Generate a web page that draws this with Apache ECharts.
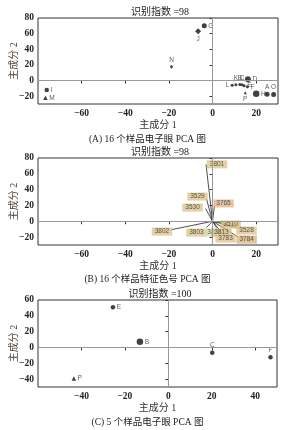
<!DOCTYPE html>
<html>
<head>
<meta charset="utf-8">
<script src="https://cdn.jsdelivr.net/npm/echarts@6/dist/echarts.min.js"></script>
<style>
  html, body { margin: 0; padding: 0; background: #fff; }
  #chart { width: 295px; height: 430px; }
</style>
</head>
<body>
<div id="chart"></div>
<script>
// 图 A：16 个样品电子眼 PCA
const samplesA = ['A', 'B', 'C', 'D', 'E', 'F', 'G', 'H', 'I', 'J', 'K', 'L', 'M', 'N', 'O', 'P']
const pc1A = [25, 12.5, 13.5, 16.2, 14.5, 16, -3.8, 20, -76, -6.6, 10.7, 9, -76.6, -18.8, 28, 15]
const pc2A = [-17.5, -5, -5.5, 1.6, -6.5, -8, 70, -17, -12, 63, -5.4, -6, -22, 14.6, -18, -15.5]

// 图 B：特征色号载荷
const colorCodes = ['3801', '3529', '3530', '3765', '3802', '3803', '3828', '3813', '3510', '3528', '3783', '3784']
const pc1B = [-3, -2.8, -3.2, 0.9, -18.6, -2.8, 0, 1.8, 4.6, 11, 4.6, 11.5]
const pc2B = [72, 28.7, 16, 20, -10.5, -8, -8, -8, -1.6, -8, -15.6, -19.4]

// 图 C：5 个样品电子眼 PCA
const samplesC = ['E', 'B', 'C', 'F', 'P']
const pc1C = [-25.5, -13.1, 20.2, 47, -43.5]
const pc2C = [50.8, 7.2, -6.7, -12.3, -39.4]

const ticksX_AB = [-60, -40, -20, 0, 20]
const ticksY_AB = [-20, 0, 20, 40, 60, 80]
const ticksX_C = [-40, -20, 0, 20, 40]
const ticksY_C = [-40, -20, 0, 20, 40, 60]
const titleTexts = ['识别指数 =98', '识别指数 =98', '识别指数 =100']
const captions = ['(A) 16 个样品电子眼 PCA 图', '(B) 16 个样品特征色号 PCA 图', '(C) 5 个样品电子眼 PCA 图']

const serif = '"Liberation Serif", "Noto Sans CJK SC", serif'
const cjk = '"Liberation Serif", "Noto Sans CJK SC", sans-serif'

// 各面板位置
const panelTop = [18, 158, 300]

// 标记形状 / 标签位置
const symA = { J: 'diamond', M: 'triangle', N: 'pin', P: 'triangle' }
const sizeA = { H: 6.5, A: 5, O: 5, D: 6, G: 5, J: 6, I: 4.5, M: 4.5, N: 4.5 }
const labelPosA = { J: 'bottom', N: 'top', P: 'bottom', A: 'top', O: 'top', L: 'left', K: 'top', B: 'top', C: 'top', D: 'right' }
const labelBgB = { '3765': '#e2b48a', '3828': '#d3e2ae', '3784': '#dab57e', '3510': '#d9bb78' }
const labelOffB = {
  '3801': [11, 0], '3529': [-9, -2], '3530': [-13, -1], '3765': [9, -2],
  '3802': [-10, 2], '3803': [-10, 5], '3828': [2, 5], '3813': [5, 5],
  '3510': [8, 2], '3528': [10, 3], '3783': [3, 5], '3784': [9, 3]
}

const fmtNum = (v) => String(v).replace('-', '\u2212')

function makeAxis(type, gridIndex, min, max, ticks) {
  const isY = type === 'y'
  return {
    type: 'value',
    gridIndex: gridIndex,
    min: min,
    max: max,
    name: isY ? '主成分 2' : '主成分 1',
    nameLocation: 'middle',
    nameGap: isY ? 19 : 16,
    nameRotate: isY ? 90 : 0,
    nameMoveOverlap: false,
    nameTextStyle: { fontFamily: cjk, fontSize: 10, color: isY ? '#4a3a30' : '#333' },
    axisLine: { show: false },
    axisTick: { show: true, length: 3, lineStyle: { color: '#333' }, customValues: ticks },
    axisLabel: {
      customValues: ticks,
      fontFamily: serif,
      fontWeight: 'bold',
      fontSize: 9.5,
      color: '#222',
      margin: isY ? 4 : 5,
      formatter: fmtNum
    },
    splitLine: { show: false }
  }
}

const zeroLines = {
  silent: true,
  symbol: 'none',
  label: { show: false },
  lineStyle: { color: '#999', width: 1, type: 'solid' },
  data: [{ xAxis: 0 }, { yAxis: 0 }]
}

const dataA = samplesA.map((n, i) => ({
  name: n,
  value: [pc1A[i], pc2A[i]],
  symbol: symA[n] || 'circle',
  symbolSize: sizeA[n] || 3,
  label: { position: labelPosA[n] || 'right' }
}))

const dataB = colorCodes.map((n, i) => ({
  name: n,
  value: [pc1B[i], pc2B[i]],
  label: {
    offset: labelOffB[n],
    backgroundColor: labelBgB[n] || '#dcc48e'
  }
}))

const linesB = colorCodes.map((n, i) => ({ coords: [[0, 0], [pc1B[i], pc2B[i]]] }))

const dataC = samplesC.map((n, i) => ({
  name: n,
  value: [pc1C[i], pc2C[i]],
  symbol: n === 'P' ? 'triangle' : 'circle',
  symbolSize: n === 'B' ? 6.5 : 4.5,
  label: { position: (n === 'C' || n === 'F') ? 'top' : 'right' }
}))

const chart = echarts.init(document.getElementById('chart'))
const option = {
  animation: false,
  backgroundColor: '#fff',
  title: titleTexts.map((t, i) => ({
    text: t,
    left: 155,
    top: panelTop[i] - 16,
    textAlign: 'center',
    textStyle: { fontFamily: cjk, fontSize: 10, fontWeight: 'normal', color: '#222' }
  })),
  grid: panelTop.map((t, i) => ({
    left: 38,
    right: i === 2 ? 18 : 17,
    top: t,
    height: i === 0 ? 86 : 87,
    containLabel: false,
    outerBoundsMode: 'none',
    show: true,
    borderColor: '#333',
    borderWidth: 1,
    backgroundColor: '#fff'
  })),
  xAxis: [
    makeAxis('x', 0, -80, 30, ticksX_AB),
    makeAxis('x', 1, -80, 30, ticksX_AB),
    makeAxis('x', 2, -60, 50, ticksX_C)
  ],
  yAxis: [
    makeAxis('y', 0, -30, 80, ticksY_AB),
    makeAxis('y', 1, -30, 80, ticksY_AB),
    makeAxis('y', 2, -50, 60, ticksY_C)
  ],
  series: [
    {
      type: 'scatter',
      xAxisIndex: 0,
      yAxisIndex: 0,
      data: dataA,
      itemStyle: { color: '#111' },
      label: { show: true, formatter: '{b}', fontSize: 6.5, color: '#333', distance: 1.5 },
      markLine: zeroLines,
      z: 3
    },
    {
      type: 'lines',
      coordinateSystem: 'cartesian2d',
      xAxisIndex: 1,
      yAxisIndex: 1,
      data: linesB,
      lineStyle: { color: '#222', width: 0.8, opacity: 1 },
      z: 2
    },
    {
      type: 'scatter',
      xAxisIndex: 1,
      yAxisIndex: 1,
      data: dataB,
      symbolSize: 0,
      label: {
        show: true,
        position: 'inside',
        formatter: '{b}',
        fontSize: 6.5,
        fontFamily: 'Liberation Sans, sans-serif',
        color: '#333',
        padding: [1, 3, 0, 3]
      },
      markLine: zeroLines,
      z: 4
    },
    {
      type: 'scatter',
      xAxisIndex: 2,
      yAxisIndex: 2,
      data: dataC,
      itemStyle: { color: '#111' },
      label: { show: true, formatter: '{b}', fontSize: 6.5, color: '#333', distance: 1.5 },
      markLine: zeroLines,
      z: 3
    }
  ],
  graphic: captions.map((c, i) => ({
    type: 'text',
    left: 'center',
    top: [135, 275, 418][i],
    style: { text: c, fontFamily: cjk, fontSize: 9.5, fill: '#222' }
  }))
}
chart.setOption(option)
</script>
</body>
</html>
